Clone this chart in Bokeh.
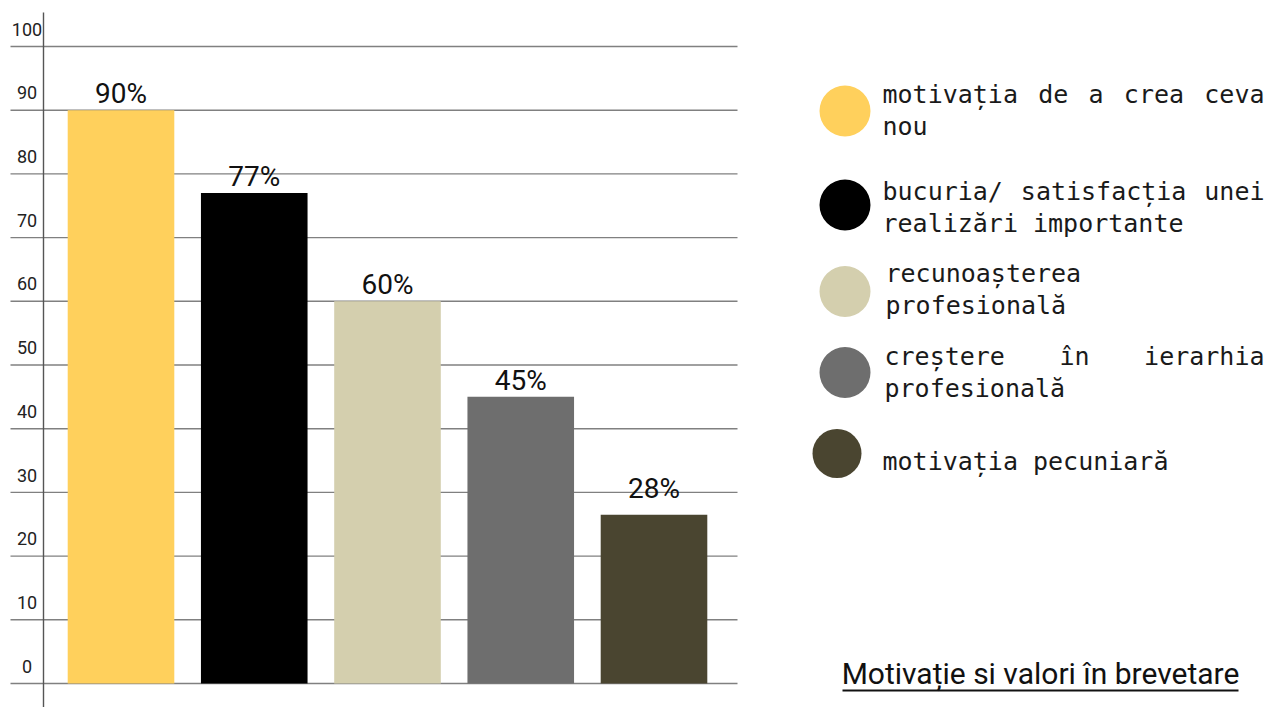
from bokeh.plotting import figure
from bokeh.models import Range1d
from bokeh.core.properties import value
from bokeh.embed import file_html
from bokeh.resources import INLINE

# ---------------- data ----------------
categories = [
    "motivația de a crea ceva nou",
    "bucuria/ satisfacția unei realizări importante",
    "recunoașterea profesională",
    "creștere în ierarhia profesională",
    "motivația pecuniară",
]
bar_values = [90, 77, 60, 45, 26.5]
label_values = [90, 77, 60, 45, 28]
bar_labels = ["90%", "77%", "60%", "45%", "28%"]
colors = ["#FFD05C", "#000000", "#D4CFAE", "#6E6E6E", "#4A4530"]
y_ticks = [0, 10, 20, 30, 40, 50, 60, 70, 80, 90, 100]
tick_labels = [str(t) for t in y_ticks]
title_text = "Motivație si valori în brevetare"
legend_lines = [
    ["motivația de a crea ceva", "nou"],
    ["bucuria/ satisfacția unei", "realizări importante"],
    ["recunoașterea", "profesională"],
    ["creștere în ierarhia", "profesională"],
    ["motivația pecuniară"],
]

# ---------------- layout ----------------
W, H = 1269, 707
PAGE = 0
PPU = 6.37          # pixels per y unit
Y0 = 683            # page y of value 0
XC0, XSTEP = 120.5, 133.25
BL = 0.38           # baseline correction (em) for svg alphabetic text

def pyu(py):
    return (Y0 - py) / PPU

x_range = Range1d((PAGE - XC0) / XSTEP, (PAGE + W - XC0) / XSTEP)
y_range = Range1d(pyu(PAGE + H), pyu(PAGE))

p = figure(width=W, height=H, x_range=x_range, y_range=y_range,
           output_backend="svg", toolbar_location=None, tools="",
           x_axis_location=None, y_axis_location=None,
           min_border=0, min_border_left=0, min_border_right=0,
           min_border_top=0, min_border_bottom=0)
p.outline_line_color = None
p.grid.visible = False
p.background_fill_color = "white"
p.border_fill_color = "white"

# pixel-space ranges for decoration / legend
p.extra_x_ranges = {"px": Range1d(PAGE, PAGE + W)}
p.extra_y_ranges = {"px": Range1d(PAGE + H, PAGE)}

# grid lines (from x=10 to 737 on the page)
n = len(y_ticks)
p.segment(x0=[10] * n, x1=[737] * n, y0=y_ticks, y1=y_ticks,
          x_range_name="px", line_color="#808080", line_width=1.4)

# vertical axis line
p.segment(x0=[43], x1=[43], y0=[12], y1=[710], x_range_name="px",
          y_range_name="px", line_color="#555555", line_width=1.4)

# tick labels
TFS = 18
p.text(x=[26.5] * n, y=[t + (10.5 + BL * TFS) / PPU for t in y_ticks], text=tick_labels,
       x_range_name="px", text_align="center", text_baseline="alphabetic",
       text_font=value("Roboto"), text_font_size=value(f"{TFS}px"),
       text_color="#222222")

# bars
idx = list(range(len(categories)))
p.vbar(x=idx, top=bar_values, bottom=0, width=0.8, fill_color=colors,
       line_color=None)

# value labels
VFS = 28
p.text(x=idx, y=[v + (6 + BL * VFS) / PPU for v in label_values], text=bar_labels,
       text_align="center", text_baseline="alphabetic",
       text_font=value("Roboto"), text_font_size=value(f"{VFS}px"),
       text_color="#111111")

# legend
circ_x = [844.5, 844.5, 844.5, 844.5, 836.5]
circ_y = [110.5, 204.5, 291, 372, 453]
circ_r = [25.5, 25.5, 25.5, 25.5, 24.5]
p.circle(x=circ_x, y=circ_y, radius=circ_r, fill_color=colors, line_color=None,
         x_range_name="px", y_range_name="px")

text_x = [882, 882, 885, 884, 882]
baselines = [[103, 135], [200, 232], [282, 314], [365, 397], [470]]
justify_first = [True, True, False, True, False]
RIGHT = 1264
FS = 25
CW = 0.602 * FS

wx, wy, wt = [], [], []
for b, lines in enumerate(legend_lines):
    for li, line in enumerate(lines):
        y = baselines[b][li] - BL * FS
        x0 = text_x[b]
        if li == 0 and justify_first[b] and len(lines) > 1:
            words = line.split(" ")
            chars = sum(len(w) for w in words)
            gap = (RIGHT - x0 - chars * CW) / (len(words) - 1)
            acc = 0
            for k, w in enumerate(words):
                wx.append(x0 + acc * CW + k * gap)
                wy.append(y)
                wt.append(w)
                acc += len(w)
        else:
            wx.append(x0)
            wy.append(y)
            wt.append(line)

p.text(x=wx, y=wy, text=wt, x_range_name="px", y_range_name="px",
       text_align="left", text_baseline="alphabetic",
       text_font=value("DejaVu Sans Mono"), text_font_size=value(f"{FS}px"),
       text_color="#1a1a1a")

# title with underline
TTS = 30
p.text(x=[1040], y=[684 - BL * TTS], text=[title_text], x_range_name="px", y_range_name="px",
       text_align="center", text_baseline="alphabetic",
       text_font=value("Roboto"), text_font_size=value(f"{TTS}px"),
       text_color="#111111")
p.segment(x0=[842], x1=[1238], y0=[690], y1=[690], x_range_name="px",
          y_range_name="px", line_color="#111111", line_width=2)

open("out.html", "w").write(file_html(p, INLINE))
